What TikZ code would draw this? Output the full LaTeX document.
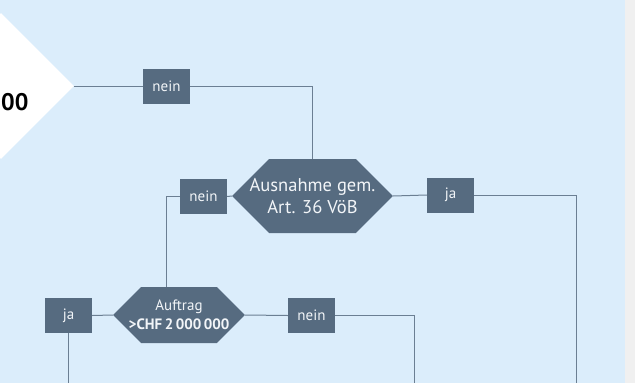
\documentclass[tikz,border=0pt]{standalone}
\usepackage{fontspec}
\setmainfont{PT Sans}
\usetikzlibrary{shapes.symbols,shapes.geometric}

\definecolor{bgblue}{HTML}{DBEDFB}
\definecolor{stripgray}{HTML}{F0F0F0}
\definecolor{boxblue}{HTML}{566B80}
\definecolor{boxtext}{HTML}{F2F5F8}
\definecolor{linegray}{HTML}{6B7F93}

\begin{document}
\begin{tikzpicture}[x=1pt,y=-1pt,
  answer/.style={fill=boxblue,text=boxtext,minimum width=47pt,
    minimum height=35pt,inner sep=0pt,font=\fontsize{15}{17}\selectfont},
  query/.style={shape=signal,signal to=west and east,signal pointer angle=90,
    fill=boxblue,text=boxtext,inner ysep=0pt,align=center},
  wire/.style={draw=linegray,line width=1pt}]

  \useasboundingbox (0,0) rectangle (635,383); %% page size
  \fill[bgblue] (0,0) rectangle (625,383);
  \fill[stripgray] (625,0) rectangle (635,383);

  %% cut-off decision on the left
  \node[diamond,fill=white,minimum width=146pt,minimum height=146pt,
    inner sep=0pt] (limit) at (1,86) {};
  \node[anchor=base west,inner sep=0pt,
    font=\fontsize{24}{28}\selectfont\bfseries] (limittext) at (1,110) {00};

  \node[answer] (nein1) at (166.5,86) {nein};
  \node[query,minimum height=74pt,inner xsep=-19.5pt,
    font=\fontsize{18.5}{22}\selectfont] (exempt) at (312.5,196)
    {Ausnahme gem.\\Art. 36 VöB};
  \node[answer] (nein2) at (203.5,196.5) {nein};
  \node[answer] (ja1) at (450.5,195) {ja};

  \node[query,minimum height=56pt,inner xsep=-12.5pt,
    font=\fontsize{15}{19}\selectfont] (order) at (179,315)
    {Auftrag\\\textbf{>CHF\,2\,000\,000}};
  \node[answer] (ja2) at (68.5,315.5) {ja};
  \node[answer] (nein3) at (311.5,315.5) {nein};

  \coordinate (orderin) at (166,287);
  \coordinate (exitA) at (576,383);
  \coordinate (exitB) at (414,383);
  \coordinate (exitC) at (68.5,383);

  \draw[wire] (limit.east) -- (nein1.west);
  \draw[wire] (nein1.east) -| (exempt.north);
  \draw[wire] (exempt.west) -- (nein2.east);
  \draw[wire] (nein2.west) -| (orderin);
  \draw[wire] (exempt.east) -- (ja1.west);
  \draw[wire] (ja1.east) -| (exitA);
  \draw[wire] (order.west) -- (ja2.east);
  \draw[wire] (ja2.south) -- (exitC);
  \draw[wire] (order.east) -- (nein3.west);
  \draw[wire] (nein3.east) -| (exitB);

\end{tikzpicture}
\end{document}
